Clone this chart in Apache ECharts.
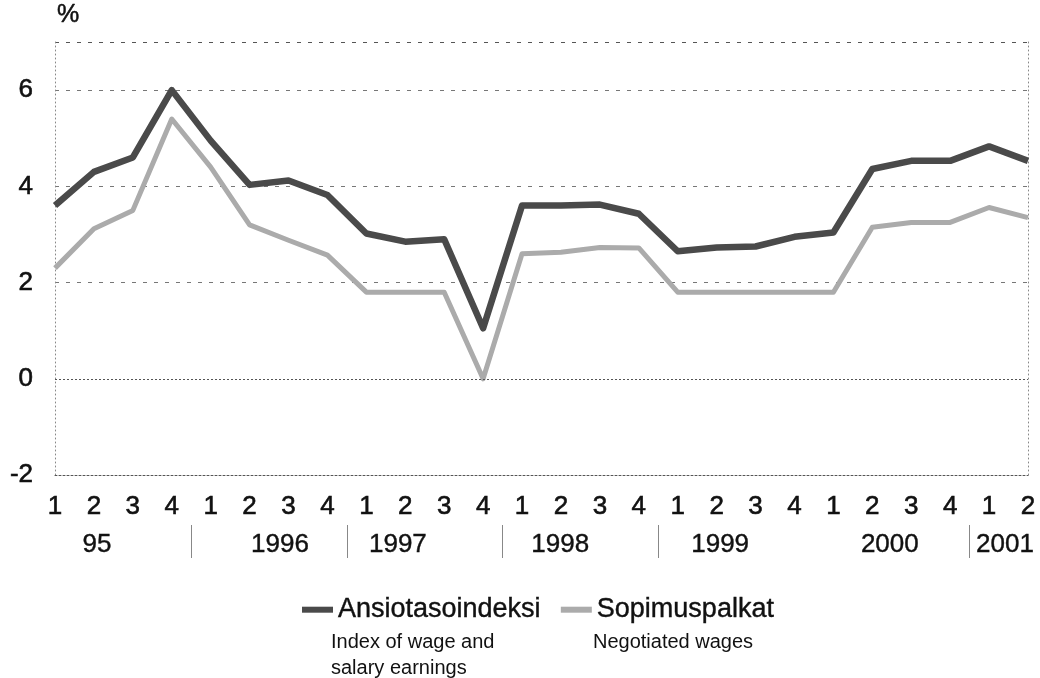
<!DOCTYPE html>
<html>
<head>
<meta charset="utf-8">
<script src="https://cdn.jsdelivr.net/npm/echarts@6/dist/echarts.min.js"></script>
<style>
  html, body { margin: 0; padding: 0; background: #fff; }
  #chart { width: 1040px; height: 678px; }
</style>
</head>
<body>
<div id="chart"></div>
<script>
// quarterly change, %, 1995 Q1 .. 2001 Q2
const quarters = ['1', '2', '3', '4', '1', '2', '3', '4', '1', '2', '3', '4', '1', '2', '3', '4',
  '1', '2', '3', '4', '1', '2', '3', '4', '1', '2']
const years = ['95', '1996', '1997', '1998', '1999', '2000', '2001']
const quartersPerYear = [4, 4, 4, 4, 4, 4, 2]

const ansiotasoindeksi = [3.6, 4.3, 4.6, 6.0, 4.95, 4.03, 4.12, 3.82, 3.02, 2.85, 2.9, 1.05,
  3.6, 3.6, 3.62, 3.43, 2.65, 2.73, 2.75, 2.95, 3.04, 4.36, 4.53, 4.53, 4.83, 4.53]
const sopimuspalkat = [2.3, 3.12, 3.5, 5.4, 4.4, 3.2, 2.88, 2.57, 1.8, 1.8, 1.8, 0.0,
  2.6, 2.63, 2.73, 2.72, 1.8, 1.8, 1.8, 1.8, 1.8, 3.15, 3.25, 3.25, 3.56, 3.35]

const seriesNames = ['Ansiotasoindeksi', 'Sopimuspalkat']
const seriesNotes = ['Index of wage and\nsalary earnings', 'Negotiated wages']

const FONT = "'Liberation Sans', Arial, Helvetica, sans-serif"
const INK = '#111'
// scanned print looks a bit heavier than plain regular type
const heavy = { textBorderColor: INK, textBorderWidth: 0.6 }

// year label centre and the boundary between years, in quarter index units
const yearCentres = []
const yearBounds = []
let start = 0
quartersPerYear.forEach((n, i) => {
  yearCentres.push(start + (n - 1) / 2)
  start += n
  if (i < quartersPerYear.length - 1) yearBounds.push(start - 0.5)
})
// the printed year labels sit a little off centre
const yearShift = [-0.42, 0.28, -0.69, -0.52, -0.41, -0.05, -0.09]
const yearPos = yearCentres.map((c, i) => c + yearShift[i])
// no divider printed between 1999 and 2000
const dividers = yearBounds.filter((b, i) => i !== 4)

const chart = echarts.init(document.getElementById('chart'))

const option = {
  backgroundColor: '#fff',
  animation: false,
  textStyle: { fontFamily: FONT },
  grid: { left: 55, right: 12, top: 42, bottom: 203, containLabel: false },
  legend: {
    data: seriesNames,
    left: 297,
    top: 591,
    itemWidth: 31,
    itemHeight: 6,
    itemGap: 20,
    icon: 'rect',
    textStyle: { fontSize: 27, color: INK, fontFamily: FONT, ...heavy, textBorderWidth: 0.4 }
  },
  xAxis: [
    {
      type: 'category',
      data: quarters,
      boundaryGap: false,
      axisLine: { show: true, onZero: false, lineStyle: { color: '#555', width: 1, type: [2, 2] } },
      axisTick: { show: false },
      axisLabel: { fontSize: 26, color: INK, margin: 19, interval: 0, ...heavy },
      splitLine: { show: false }
    },
    {
      type: 'value',
      min: 0,
      max: quarters.length - 1,
      position: 'bottom',
      offset: 50,
      axisLine: { show: false, onZero: false },
      splitLine: { show: false },
      axisTick: {
        show: true,
        customValues: dividers,
        length: 33,
        lineStyle: { color: '#888', width: 1 }
      },
      axisLabel: {
        customValues: yearPos,
        fontSize: 26,
        color: INK,
        margin: 7,
        ...heavy,
        textBorderWidth: 0.4,
        formatter: (v) => years[yearPos.findIndex(p => Math.abs(p - v) < 1e-6)]
      }
    }
  ],
  yAxis: [
    {
      type: 'value',
      min: -2,
      max: 7,
      interval: 2,
      name: '%',
      nameLocation: 'end',
      nameGap: 14,
      nameTextStyle: { fontSize: 25, color: INK, align: 'left', padding: [0, 0, 0, 2], ...heavy, textBorderWidth: 0.5 },
      axisLine: { show: true, onZero: false, lineStyle: { color: '#888', width: 1, type: [1, 3] } },
      axisTick: { show: false },
      axisLabel: { fontSize: 26, color: INK, margin: 22, showMaxLabel: false, ...heavy },
      splitLine: {
        show: true,
        lineStyle: {
          color: ['transparent', 'transparent', '#777', '#777', '#777', '#555'],
          width: 1,
          type: [4, 7]
        }
      }
    },
    {
      type: 'value',
      min: -2,
      max: 7,
      interval: 2,
      position: 'right',
      axisLine: { show: true, onZero: false, lineStyle: { color: '#888', width: 1, type: [1, 3] } },
      axisTick: { show: false },
      axisLabel: { show: false },
      splitLine: { show: false }
    }
  ],
  series: [
    {
      name: seriesNames[0],
      type: 'line',
      data: ansiotasoindeksi,
      showSymbol: false,
      symbol: 'none',
      z: 3,
      lineStyle: { color: '#4a4a4a', width: 6.5, join: 'round' },
      itemStyle: { color: '#4a4a4a' },
      markLine: {
        silent: true,
        symbol: 'none',
        label: { show: false },
        lineStyle: { color: '#555', width: 1, type: [2, 2] },
        data: [{ yAxis: 0 }]
      }
    },
    {
      name: seriesNames[1],
      type: 'line',
      data: sopimuspalkat,
      showSymbol: false,
      symbol: 'none',
      z: 4,
      lineStyle: { color: '#ababab', width: 5, join: 'round' },
      itemStyle: { color: '#ababab' }
    }
  ],
  graphic: [
    {
      type: 'text',
      left: 331,
      top: 629,
      style: { text: seriesNotes[0], fontSize: 20, fontFamily: FONT, fill: INK, lineHeight: 26 }
    },
    {
      type: 'text',
      left: 593,
      top: 629,
      style: { text: seriesNotes[1], fontSize: 20, fontFamily: FONT, fill: INK, lineHeight: 26 }
    }
  ]
}

chart.setOption(option)
window.addEventListener('resize', () => chart.resize())
</script>
</body>
</html>
